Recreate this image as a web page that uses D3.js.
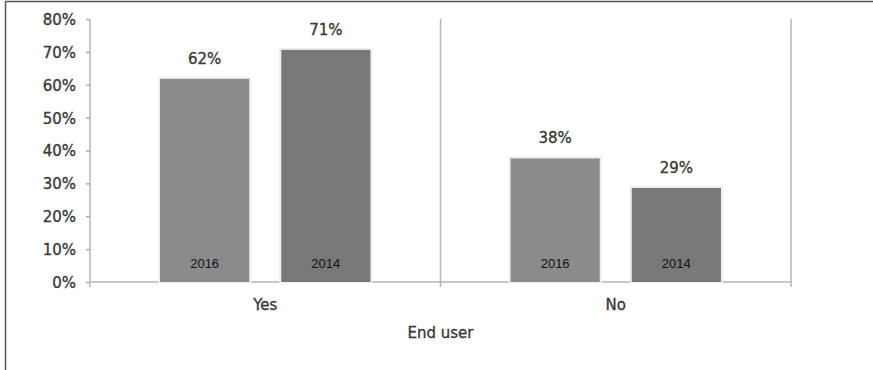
<!DOCTYPE html>
<html>
<head>
<meta charset="utf-8">
<script src="https://cdn.jsdelivr.net/npm/d3@7"></script>
<style>
  body { margin: 0; background: #fff; }
  svg { display: block; }
  .lbl { font-family: 'DejaVu Sans', sans-serif; font-size: 15px; fill: #3a3a3a; stroke: #3a3a3a; stroke-width: 0.35px; }
</style>
</head>
<body>
<svg id="chart" width="873" height="370"></svg>
<script>
// data
var categories = ["Yes", "No"];
var years = ["2016", "2014"];
var values2016 = [61.8, 37.6];
var values2014 = [70.6, 28.6];
var yTicks = [0, 10, 20, 30, 40, 50, 60, 70, 80];
var axisTitle = "End user";

var colors = { "2016": "#8b8b8b", "2014": "#787878" };

var svg = d3.select("#chart");

// outer frame (only top and left edges show in the crop)
svg.append("rect")
    .attr("x", 5.5).attr("y", 1.5)
    .attr("width", 900).attr("height", 400)
    .attr("fill", "none")
    .attr("stroke", "#555")
    .attr("stroke-width", 1.5);

var plotLeft = 90, plotRight = 791, plotTop = 19, plotBottom = 282;

var y = d3.scaleLinear().domain([0, 80]).range([plotBottom, plotTop]);
var x0 = d3.scaleBand().domain(categories).range([plotLeft, plotRight]).paddingInner(0).paddingOuter(0);
var x1 = d3.scaleBand().domain(years).range([0, x0.bandwidth()])
    .paddingInner(0.264).paddingOuter(0.578);

var data = [];
categories.forEach(function(c, i) {
  data.push({ cat: c, year: "2016", value: values2016[i] });
  data.push({ cat: c, year: "2014", value: values2014[i] });
});

// y axis
var yAxis = svg.append("g")
    .attr("transform", "translate(" + plotLeft + ",0)")
    .call(d3.axisLeft(y).tickValues(yTicks).tickSize(4).tickPadding(10)
      .tickFormat(function(d) { return d + "%"; }));
yAxis.select(".domain").remove();
yAxis.selectAll(".tick line").attr("stroke", "#aaa").attr("stroke-width", 1.5);
yAxis.selectAll(".tick text")
    .attr("class", "lbl")
    .attr("fill", null)
    .attr("dy", "0.36em");
yAxis.attr("font-size", null).attr("font-family", null);

// axis lines and group separators
svg.append("line")
    .attr("x1", plotLeft).attr("x2", plotLeft).attr("y1", plotTop).attr("y2", plotBottom + 5)
    .attr("stroke", "#b5b5b5").attr("stroke-width", 1.5);
svg.append("line")
    .attr("x1", plotLeft).attr("x2", plotRight).attr("y1", plotBottom).attr("y2", plotBottom)
    .attr("stroke", "#b5b5b5").attr("stroke-width", 1.5);
categories.forEach(function(c) {
  var xs = x0(c) + x0.bandwidth();
  svg.append("line")
      .attr("x1", xs).attr("x2", xs).attr("y1", plotTop).attr("y2", plotBottom + 5)
      .attr("stroke", "#b5b5b5").attr("stroke-width", 1.5);
});

// bars
var bars = svg.append("g").selectAll("g")
    .data(data)
    .enter().append("g")
    .attr("transform", function(d) { return "translate(" + (x0(d.cat) + x1(d.year)) + ",0)"; });

// soft shadow round each bar
bars.append("rect")
    .attr("x", -1)
    .attr("y", function(d) { return y(d.value) - 1; })
    .attr("width", x1.bandwidth() + 2)
    .attr("height", function(d) { return plotBottom - y(d.value) + 1; })
    .attr("fill", "none")
    .attr("stroke", "#eeeeee")
    .attr("stroke-width", 2);

bars.append("rect")
    .attr("x", 0)
    .attr("y", function(d) { return y(d.value); })
    .attr("width", x1.bandwidth())
    .attr("height", function(d) { return plotBottom - y(d.value); })
    .attr("fill", function(d) { return colors[d.year]; });

// value labels
bars.append("text")
    .attr("class", "lbl")
    .attr("x", x1.bandwidth() / 2)
    .attr("y", function(d) { return y(d.value) - 15; })
    .attr("text-anchor", "middle")
    .text(function(d) { return Math.round(d.value) + "%"; });

// year labels inside bars
bars.append("text")
    .attr("x", x1.bandwidth() / 2)
    .attr("y", plotBottom - 14)
    .attr("text-anchor", "middle")
    .attr("fill", "#111")
    .style("font-family", "'Liberation Sans', Arial, sans-serif")
    .style("font-size", "13px")
    .text(function(d) { return d.year; });

// category labels
svg.append("g").selectAll("text")
    .data(categories)
    .enter().append("text")
    .attr("class", "lbl")
    .attr("x", function(d) { return x0(d) + x0.bandwidth() / 2; })
    .attr("y", 310)
    .attr("text-anchor", "middle")
    .text(function(d) { return d; });

svg.append("text")
    .attr("class", "lbl")
    .attr("x", (plotLeft + plotRight) / 2)
    .attr("y", 338)
    .attr("text-anchor", "middle")
    .text(axisTitle);
</script>
</body>
</html>
